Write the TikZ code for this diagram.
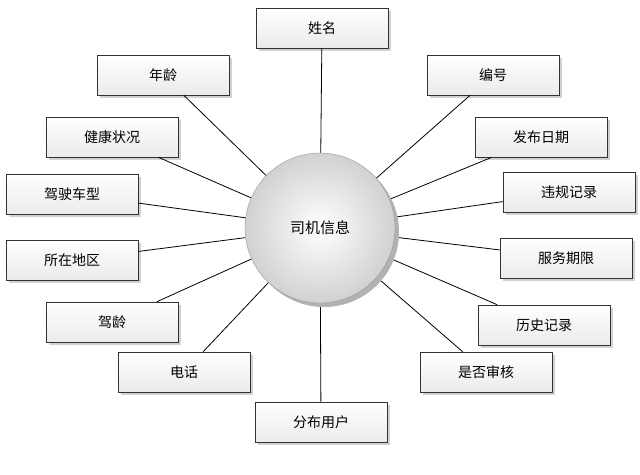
\documentclass[tikz,border=0pt]{standalone}
\usepackage{fontspec}
\setmainfont{Noto Sans CJK SC}
\usetikzlibrary{shadows}
\begin{document}
\begin{tikzpicture}[x=1pt,y=-1pt,
  box/.style={draw=black!80,line width=0.6pt,top color=white,bottom color=black!8,minimum width=132pt,minimum height=40pt,inner sep=0pt,font=\fontsize{14}{16}\selectfont,drop shadow={shadow xshift=3pt,shadow yshift=-3pt,fill=black!35}},
  conn/.style={line width=0.8pt,black}]
\useasboundingbox[fill=white] (0,0) rectangle (640,474);
\coordinate (c) at (320,228);
\node[box] (b1) at (322,28) {姓名};
\node[box] (b2) at (163,75) {年龄};
\node[box] (b3) at (493,75) {编号};
\node[box] (b4) at (112,137) {健康状况};
\node[box] (b5) at (541,137) {发布日期};
\node[box] (b6) at (72,194) {驾驶车型};
\node[box] (b7) at (569,192) {违规记录};
\node[box] (b8) at (72,260) {所在地区};
\node[box] (b9) at (566,258) {服务期限};
\node[box] (b10) at (112,322) {驾龄};
\node[box] (b11) at (544,325) {历史记录};
\node[box] (b12) at (184,372) {电话};
\node[box] (b13) at (486,372) {是否审核};
\node[box] (b14) at (321,422) {分布用户};
\foreach \i in {1,...,14} \draw[conn] (c) -- (b\i);
\fill[black!30] (324,232) circle (75);
\node[circle,minimum size=150pt,inner sep=0pt,draw=black!40,inner color=white,outer color=black!18,font=\fontsize{15}{17}\selectfont] (hub) at (c) {司机信息};
\end{tikzpicture}
\end{document}
